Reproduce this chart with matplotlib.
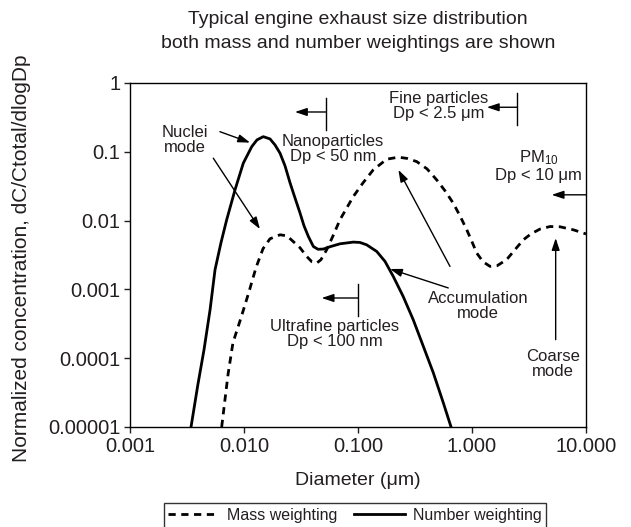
import matplotlib
matplotlib.use('Agg')
import matplotlib.pyplot as plt
from matplotlib.ticker import FixedLocator, NullLocator

plt.rcParams['font.family'] = ['Liberation Sans', 'DejaVu Sans']
plt.rcParams['mathtext.fontset'] = 'custom'
plt.rcParams['mathtext.rm'] = 'Liberation Sans'
plt.rcParams['mathtext.it'] = 'Liberation Sans'

# values (diameter in um, normalized concentration)
number_d = [0.00343, 0.00394, 0.00446, 0.00504, 0.00557, 0.00628, 0.00705, 0.00834,
            0.00986, 0.0117, 0.013, 0.01476, 0.0169, 0.0187, 0.0207, 0.0229,
            0.0254, 0.028, 0.031, 0.0336, 0.0367, 0.0406, 0.0446, 0.0497, 0.0568,
            0.0695, 0.091, 0.104, 0.119, 0.146, 0.1726, 0.204, 0.249, 0.305,
            0.374, 0.458, 0.56, 0.655]
number_c = [1e-5, 4.14e-5, 1.33e-4, 5.07e-4, 0.00193, 0.00476, 0.0103, 0.028,
            0.0684, 0.119, 0.149, 0.166, 0.154, 0.126, 0.0955, 0.0624,
            0.035, 0.0214, 0.0129, 0.0084, 0.00588, 0.0042, 0.00383, 0.00386, 0.00417,
            0.0046, 0.00487, 0.00481, 0.00445, 0.00356, 0.00255, 0.00154, 0.00079, 0.000363,
            0.000149, 6.12e-5, 2.25e-5, 1e-5]

mass_d = [0.00637, 0.00724, 0.0080, 0.00942, 0.01107, 0.01274, 0.01468, 0.0169,
          0.0207, 0.0238, 0.027, 0.031, 0.0355, 0.0394, 0.0434, 0.0473, 0.0531,
          0.0604, 0.0695, 0.091, 0.1107, 0.136, 0.1786, 0.226, 0.269, 0.327,
          0.403, 0.49, 0.58, 0.685, 0.785, 0.9, 1.0, 1.1, 1.25, 1.44, 1.66,
          2.01, 2.38, 2.82, 3.3, 3.95, 4.83, 5.92, 7.74, 10.0]
mass_c = [1e-5, 5.78e-5, 1.68e-4, 3.88e-4, 9.27e-4, 0.00207, 0.0039, 0.00544,
          0.00622, 0.00601, 0.00497, 0.00403, 0.00301, 0.00252, 0.00241, 0.0027, 0.00377,
          0.00601, 0.0103, 0.0224, 0.0354, 0.0546, 0.0781, 0.0835, 0.0802, 0.0721,
          0.0565, 0.0391, 0.0271, 0.0179, 0.0117, 0.00735, 0.00492, 0.00338, 0.00252, 0.00216, 0.00221,
          0.0027, 0.00377, 0.00526, 0.00643, 0.00753, 0.0082, 0.00813, 0.00735, 0.0064]

x_ticks = [0.001, 0.01, 0.1, 1, 10]
x_labels = ['0.001', '0.010', '0.100', '1.000', '10.000']
y_ticks = [1e-5, 1e-4, 1e-3, 1e-2, 1e-1, 1]
y_labels = ['0.00001', '0.0001', '0.001', '0.01', '0.1', '1']

txt = '#231f20'

fig = plt.figure(figsize=(6.31, 5.27), dpi=100)
ax = fig.add_axes([130/631, 1-427/527, 456/631, 344/527])

ax.plot(mass_d, mass_c, color='k', lw=2.0, ls=(0, (2.6, 2.0)), label='Mass weighting')
ax.plot(number_d, number_c, color='k', lw=2.0, label='Number weighting')

ax.set_xscale('log')
ax.set_yscale('log')
ax.set_xlim(0.001, 10)
ax.set_ylim(1e-5, 1)
ax.xaxis.set_major_locator(FixedLocator(x_ticks))
ax.xaxis.set_minor_locator(NullLocator())
ax.yaxis.set_major_locator(FixedLocator(y_ticks))
ax.yaxis.set_minor_locator(NullLocator())
ax.set_xticklabels(x_labels)
ax.set_yticklabels(y_labels)
ax.tick_params(direction='out', length=4, width=1, labelsize=14.5, colors=txt, pad=3)
for s in ax.spines.values():
    s.set_linewidth(1)

ax.set_xlabel('Diameter (μm)', fontsize=14, color=txt)
ax.xaxis.set_label_coords(0.5, -(472-427)/344)
ax.set_ylabel('Normalized concentration, dC/Ctotal/dlogDp', fontsize=15, color=txt)
ax.yaxis.set_label_coords(-(130-31)/456, 0.49)

fig.text(358/631, 1-20/527, 'Typical engine exhaust size distribution',
         ha='center', va='center', fontsize=14, color=txt)
fig.text(358/631, 1-43/527, 'both mass and number weightings are shown',
         ha='center', va='center', fontsize=14, color=txt)

ap = dict(arrowstyle='-|>,head_length=0.6,head_width=0.2', color='k', lw=1,
          mutation_scale=12, shrinkA=0, shrinkB=0)
fs = 12

# nuclei mode
ax.text(0.00303, 0.149, 'Nuclei\nmode', ha='center', va='center', fontsize=fs, color=txt, linespacing=1.0)
ax.annotate('', xy=(0.0113, 0.136), xytext=(0.00615, 0.196), arrowprops=ap)
ax.annotate('', xy=(0.0138, 0.00753), xytext=(0.00538, 0.0807), arrowprops=ap)

# nanoparticles
ax.text(0.0604, 0.111, 'Nanoparticles\nDp < 50 nm', ha='center', va='center', fontsize=fs, color=txt, linespacing=1.0)
ax.plot([0.052, 0.052], [0.6, 0.208], color='k', lw=1)
ax.annotate('', xy=(0.028, 0.379), xytext=(0.052, 0.379), arrowprops=ap)

# fine particles
ax.text(0.514, 0.464, 'Fine particles\nDp < 2.5 μm', ha='center', va='center', fontsize=fs, color=txt, linespacing=1.0)
ax.plot([2.5, 2.5], [0.723, 0.246], color='k', lw=1)
ax.annotate('', xy=(1.35, 0.444), xytext=(2.5, 0.444), arrowprops=ap)

# PM10
ax.text(3.82, 0.0635, 'PM$_{10}$\nDp < 10 μm', ha='center', va='center', fontsize=fs, color=txt, linespacing=1.1)
ax.annotate('', xy=(5.0, 0.0237), xytext=(10, 0.0237), arrowprops=ap)

# accumulation mode
ax.text(1.135, 0.000566, 'Accumulation\nmode', ha='center', va='center', fontsize=fs, color=txt, linespacing=1.0)
ax.annotate('', xy=(0.226, 0.0546), xytext=(0.641, 0.00216), arrowprops=ap)
ax.annotate('', xy=(0.191, 0.00198), xytext=(0.619, 0.00105), arrowprops=ap)

# ultrafine
ax.text(0.0628, 0.000224, 'Ultrafine particles\nDp < 100 nm', ha='center', va='center', fontsize=fs, color=txt, linespacing=1.0)
ax.plot([0.1, 0.1], [0.00121, 0.000406], color='k', lw=1)
ax.annotate('', xy=(0.048, 0.00075), xytext=(0.1, 0.00075), arrowprops=ap)

# coarse mode
ax.text(5.16, 8.35e-5, 'Coarse\nmode', ha='center', va='center', fontsize=fs, color=txt, linespacing=1.0)
ax.annotate('', xy=(5.42, 0.00557), xytext=(5.42, 0.000186), arrowprops=ap)

leg = fig.legend(loc='upper center', bbox_to_anchor=(355/631, 1-503/527), ncol=2,
                 fontsize=11.5, frameon=True, fancybox=False, edgecolor='k',
                 handlelength=3.2, handletextpad=0.5, columnspacing=1.0,
                 borderpad=0.3, borderaxespad=0, labelcolor=txt)
leg.get_frame().set_linewidth(1)
for h in leg.get_lines():
    h.set_linewidth(2)

fig.savefig('out.png', dpi=100)
